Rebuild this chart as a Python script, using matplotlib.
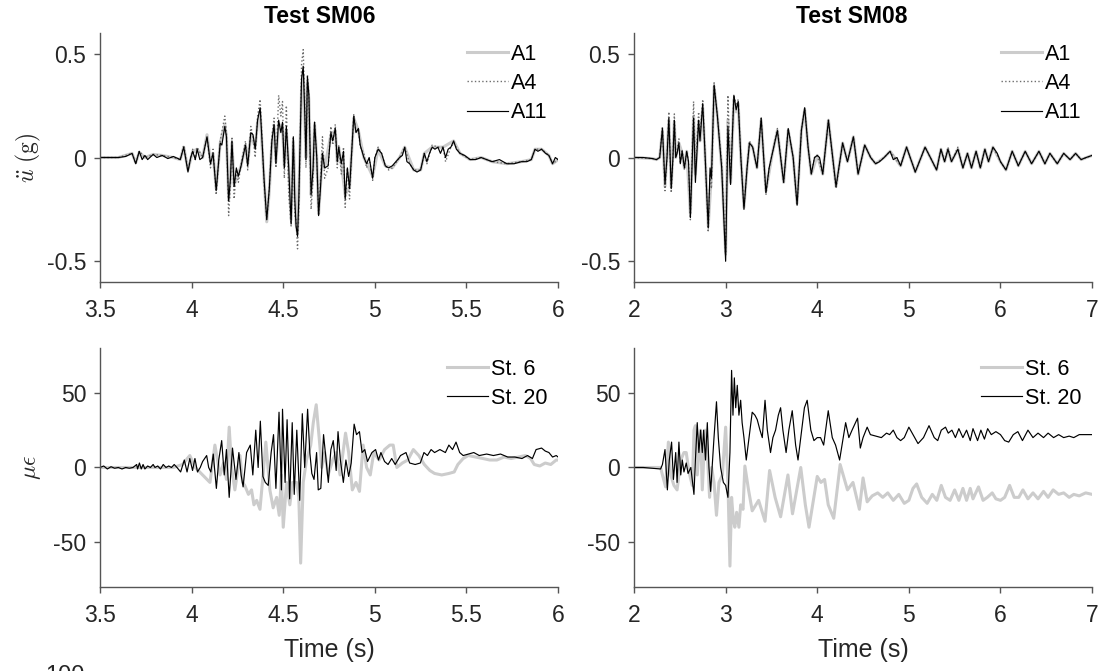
import matplotlib.pyplot as plt

# ---------------------------------------------------------------
# Readings taken off the reference traces (time in s, value)
# ---------------------------------------------------------------
sm06_a1 = [(3.50, 0.0), (3.60, 0.0), (3.675, 0.02), (3.695, -0.025), (3.714, 0.025), (3.745, 0.0), (3.79, 0.015),
           (3.84, 0.01), (3.90, 0.0), (3.938, -0.01), (3.957, 0.05), (3.98, -0.06), (4.006, 0.03), (4.03, 0.04),
           (4.06, 0.0), (4.084, 0.11), (4.103, -0.02), (4.117, 0.02), (4.134, -0.15), (4.156, 0.07), (4.181, 0.16),
           (4.19, 0.10), (4.202, -0.20), (4.212, -0.10), (4.22, 0.07), (4.232, -0.13), (4.255, -0.08), (4.27, -0.04),
           (4.294, 0.06), (4.306, -0.03), (4.323, 0.11), (4.347, 0.05), (4.36, 0.17), (4.374, 0.22), (4.383, 0.08),
           (4.395, -0.10), (4.41, -0.31), (4.424, -0.16), (4.438, 0.07), (4.45, 0.15), (4.46, -0.02), (4.475, 0.16),
           (4.496, 0.15), (4.506, -0.04), (4.517, 0.13), (4.53, -0.05), (4.543, -0.30), (4.555, 0.08), (4.57, -0.32),
           (4.578, -0.36), (4.585, -0.18), (4.60, 0.33), (4.609, 0.40), (4.618, 0.18), (4.624, 0.0), (4.632, 0.36),
           (4.64, 0.28), (4.652, -0.18), (4.663, -0.05), (4.671, 0.16), (4.683, 0.0), (4.693, -0.27), (4.703, -0.14),
           (4.714, 0.02), (4.726, -0.05), (4.76, 0.11), (4.784, 0.13), (4.795, -0.02), (4.803, 0.05), (4.817, -0.03),
           (4.838, -0.18), (4.862, -0.14), (4.885, 0.19), (4.91, 0.13), (4.94, 0.0), (4.988, -0.09), (5.018, 0.04),
           (5.057, -0.04), (5.095, -0.05), (5.135, 0.0), (5.163, 0.05), (5.212, -0.06), (5.25, -0.06), (5.27, 0.02),
           (5.313, 0.05), (5.344, 0.05), (5.372, 0.05), (5.43, 0.08), (5.465, 0.02), (5.52, -0.01), (5.58, 0.0),
           (5.64, -0.02), (5.72, -0.03), (5.80, -0.02), (5.854, -0.01), (5.874, 0.04), (5.91, 0.04), (5.95, 0.01),
           (5.97, -0.03), (6.0, -0.01)]

sm06_a4 = [(3.50, 0.0), (3.60, 0.0), (3.675, 0.02), (3.695, -0.03), (3.714, 0.03), (3.745, 0.0), (3.79, 0.015),
           (3.84, 0.01), (3.90, 0.0), (3.938, -0.01), (3.957, 0.06), (3.98, -0.06), (4.006, 0.04), (4.02, -0.01),
           (4.03, 0.05), (4.06, 0.0), (4.084, 0.10), (4.103, -0.05), (4.117, 0.04), (4.134, -0.18), (4.156, 0.08),
           (4.181, 0.20), (4.19, 0.12), (4.202, -0.28), (4.212, -0.12), (4.22, 0.10), (4.232, -0.20), (4.244, -0.06),
           (4.255, -0.12), (4.27, -0.03), (4.294, 0.08), (4.306, -0.06), (4.323, 0.15), (4.335, 0.10), (4.347, 0.0),
           (4.36, 0.20), (4.374, 0.28), (4.383, 0.12), (4.395, -0.12), (4.41, -0.30), (4.424, -0.15), (4.438, 0.10),
           (4.45, 0.19), (4.46, -0.05), (4.475, 0.30), (4.487, 0.20), (4.496, 0.27), (4.506, -0.10), (4.517, 0.25),
           (4.53, -0.18), (4.543, -0.33), (4.555, 0.10), (4.563, -0.28), (4.57, -0.30), (4.578, -0.44), (4.585, -0.25),
           (4.60, 0.45), (4.609, 0.52), (4.618, 0.25), (4.624, -0.05), (4.632, 0.40), (4.64, 0.30), (4.652, -0.25),
           (4.663, -0.10), (4.671, 0.17), (4.683, 0.0), (4.693, -0.28), (4.703, -0.12), (4.714, 0.10), (4.726, -0.10),
           (4.745, -0.05), (4.76, 0.15), (4.77, 0.06), (4.784, 0.16), (4.795, -0.05), (4.803, 0.06), (4.817, -0.08),
           (4.829, 0.05), (4.838, -0.24), (4.85, -0.05), (4.862, -0.20), (4.872, 0.0), (4.885, 0.21), (4.897, 0.12),
           (4.91, 0.14), (4.92, 0.05), (4.94, 0.02), (4.955, -0.05), (4.969, 0.0), (4.988, -0.11), (5.0, 0.0),
           (5.018, 0.05), (5.037, 0.02), (5.057, -0.04), (5.075, -0.06), (5.095, -0.05), (5.135, 0.0), (5.163, 0.05),
           (5.19, -0.03), (5.212, -0.06), (5.25, -0.06), (5.27, 0.02), (5.284, -0.03), (5.313, 0.06), (5.344, 0.05),
           (5.372, 0.05), (5.386, -0.02), (5.415, 0.05), (5.43, 0.07), (5.465, 0.02), (5.52, -0.01), (5.58, 0.0),
           (5.64, -0.02), (5.72, -0.03), (5.80, -0.02), (5.854, -0.01), (5.874, 0.04), (5.91, 0.04), (5.95, 0.01),
           (5.97, -0.03), (6.0, -0.01)]

sm06_a11 = [(3.50, 0.0), (3.55, 0.0), (3.60, 0.0), (3.64, 0.005), (3.675, 0.02), (3.695, -0.03), (3.714, 0.03),
            (3.73, -0.01), (3.745, 0.01), (3.76, -0.01), (3.79, 0.015), (3.81, 0.0), (3.84, 0.01), (3.87, -0.005),
            (3.90, 0.005), (3.938, -0.01), (3.957, 0.05), (3.98, -0.07), (3.995, 0.0), (4.006, 0.03), (4.02, -0.01),
            (4.03, 0.04), (4.045, -0.01), (4.06, 0.0), (4.084, 0.10), (4.103, -0.03), (4.117, 0.02), (4.134, -0.16),
            (4.156, 0.07), (4.165, 0.06), (4.181, 0.15), (4.19, 0.10), (4.202, -0.21), (4.212, -0.10), (4.22, 0.08),
            (4.232, -0.14), (4.244, -0.05), (4.255, -0.09), (4.27, -0.04), (4.294, 0.06), (4.306, -0.04), (4.323, 0.12),
            (4.335, 0.11), (4.347, 0.04), (4.36, 0.18), (4.374, 0.24), (4.383, 0.10), (4.395, -0.10), (4.41, -0.30),
            (4.424, -0.15), (4.438, 0.08), (4.45, 0.16), (4.46, -0.03), (4.475, 0.18), (4.487, 0.12), (4.496, 0.17),
            (4.506, -0.05), (4.517, 0.15), (4.53, -0.05), (4.543, -0.32), (4.555, 0.10), (4.563, -0.20), (4.57, -0.33),
            (4.578, -0.38), (4.585, -0.20), (4.60, 0.38), (4.609, 0.44), (4.618, 0.20), (4.624, -0.01), (4.632, 0.39),
            (4.64, 0.30), (4.652, -0.18), (4.663, -0.05), (4.671, 0.17), (4.683, 0.0), (4.693, -0.28), (4.703, -0.15),
            (4.714, 0.02), (4.726, -0.05), (4.745, -0.04), (4.76, 0.12), (4.77, 0.08), (4.784, 0.14), (4.795, -0.02),
            (4.803, 0.05), (4.817, -0.03), (4.829, 0.03), (4.838, -0.20), (4.85, -0.05), (4.862, -0.15), (4.872, 0.0),
            (4.885, 0.20), (4.897, 0.12), (4.91, 0.14), (4.92, 0.06), (4.94, 0.0), (4.955, -0.03), (4.969, 0.0),
            (4.988, -0.10), (5.0, 0.0), (5.018, 0.04), (5.037, 0.02), (5.057, -0.04), (5.075, -0.05), (5.095, -0.04),
            (5.115, -0.02), (5.135, 0.0), (5.15, 0.01), (5.163, 0.05), (5.175, -0.02), (5.19, -0.03), (5.212, -0.06),
            (5.23, -0.07), (5.25, -0.06), (5.27, 0.02), (5.284, -0.02), (5.298, 0.02), (5.313, 0.05), (5.328, 0.04),
            (5.344, 0.05), (5.358, 0.02), (5.372, 0.05), (5.386, 0.0), (5.40, 0.04), (5.415, 0.05), (5.43, 0.08),
            (5.445, 0.04), (5.465, 0.02), (5.49, 0.01), (5.52, -0.01), (5.55, -0.01), (5.58, 0.0), (5.61, -0.01),
            (5.64, -0.02), (5.68, -0.01), (5.72, -0.03), (5.76, -0.03), (5.80, -0.02), (5.83, -0.02), (5.854, -0.01),
            (5.874, 0.04), (5.89, 0.03), (5.91, 0.04), (5.932, 0.02), (5.95, 0.01), (5.97, -0.03), (5.985, 0.0),
            (6.0, -0.01)]

sm08_a1 = [(2.0, 0.0), (2.2, -0.005), (2.245, -0.01), (2.28, 0.0), (2.31, 0.13), (2.338, -0.14), (2.38, 0.18),
           (2.406, -0.14), (2.44, 0.17), (2.455, 0.0), (2.49, 0.07), (2.525, 0.02), (2.55, -0.05), (2.575, 0.03),
           (2.615, -0.27), (2.65, 0.20), (2.67, -0.08), (2.705, 0.17), (2.72, 0.08), (2.75, 0.24), (2.777, 0.0),
           (2.81, -0.33), (2.845, -0.08), (2.874, 0.34), (2.91, 0.20), (2.957, -0.05), (3.0, -0.46), (3.025, 0.18),
           (3.054, -0.12), (3.09, 0.28), (3.115, 0.22), (3.137, 0.26), (3.166, 0.0), (3.2, -0.24), (3.234, -0.05),
           (3.26, 0.07), (3.295, 0.05), (3.342, -0.05), (3.388, 0.18), (3.44, -0.16), (3.51, 0.02), (3.565, 0.13),
           (3.633, -0.12), (3.683, 0.13), (3.737, 0.0), (3.78, -0.22), (3.827, 0.13), (3.863, 0.23), (3.9, 0.05),
           (3.935, -0.08), (4.0, 0.01), (4.06, -0.08), (4.122, 0.18), (4.205, -0.14), (4.277, 0.07), (4.33, -0.02),
           (4.395, 0.10), (4.446, -0.08), (4.518, 0.06), (4.583, 0.0), (4.637, -0.03), (4.73, 0.0), (4.795, 0.03),
           (4.91, -0.04), (4.975, 0.05), (5.07, -0.07), (5.177, 0.05), (5.303, -0.06), (5.35, 0.04), (5.39, -0.02),
           (5.427, 0.04), (5.465, -0.02), (5.535, 0.04), (5.59, -0.05), (5.64, 0.02), (5.684, -0.05), (5.734, 0.03),
           (5.78, -0.05), (5.83, 0.04), (5.87, -0.02), (5.918, 0.05), (6.0, -0.02), (6.06, -0.06), (6.128, 0.03),
           (6.195, -0.04), (6.27, 0.03), (6.34, -0.03), (6.42, 0.03), (6.485, -0.03), (6.54, 0.02), (6.62, -0.03),
           (6.69, 0.02), (6.76, -0.01), (6.82, 0.02), (6.88, -0.01), (7.0, 0.01)]

sm08_a4 = [(2.0, 0.0), (2.2, -0.005), (2.245, -0.01), (2.28, 0.0), (2.31, 0.15), (2.338, -0.16), (2.36, 0.0),
           (2.38, 0.22), (2.406, -0.17), (2.425, 0.0), (2.44, 0.21), (2.455, 0.0), (2.49, 0.09), (2.505, -0.03),
           (2.525, 0.04), (2.55, -0.06), (2.575, 0.03), (2.595, -0.02), (2.615, -0.30), (2.65, 0.27), (2.67, -0.05),
           (2.705, 0.22), (2.72, 0.10), (2.75, 0.28), (2.777, 0.0), (2.81, -0.36), (2.83, -0.08), (2.845, -0.15),
           (2.874, 0.36), (2.91, 0.20), (2.957, -0.03), (3.0, -0.47), (3.025, 0.30), (3.054, -0.10), (3.09, 0.30),
           (3.115, 0.25), (3.137, 0.28), (3.166, 0.0), (3.2, -0.24), (3.234, -0.05), (3.26, 0.08), (3.295, 0.05),
           (3.342, -0.05), (3.388, 0.19), (3.44, -0.18), (3.475, -0.05), (3.51, 0.02), (3.565, 0.14), (3.633, -0.12),
           (3.683, 0.14), (3.737, 0.0), (3.78, -0.23), (3.827, 0.13), (3.863, 0.24), (3.9, 0.05), (3.935, -0.08),
           (3.97, 0.0), (4.0, 0.01), (4.06, -0.08), (4.122, 0.18), (4.205, -0.15), (4.277, 0.07), (4.33, -0.02),
           (4.395, 0.10), (4.446, -0.08), (4.518, 0.06), (4.583, 0.0), (4.637, -0.03), (4.73, 0.0), (4.795, 0.03),
           (4.91, -0.04), (4.975, 0.05), (5.07, -0.07), (5.177, 0.05), (5.303, -0.06), (5.35, 0.04), (5.39, -0.02),
           (5.427, 0.05), (5.465, -0.02), (5.535, 0.05), (5.59, -0.05), (5.64, 0.02), (5.684, -0.05), (5.734, 0.03),
           (5.78, -0.05), (5.83, 0.04), (5.87, -0.02), (5.918, 0.05), (6.0, -0.02), (6.06, -0.06), (6.128, 0.03),
           (6.195, -0.04), (6.27, 0.03), (6.34, -0.03), (6.42, 0.03), (6.485, -0.03), (6.54, 0.02), (6.62, -0.03),
           (6.69, 0.02), (6.76, -0.01), (6.82, 0.02), (6.88, -0.01), (7.0, 0.01)]

sm08_a11 = [(2.0, 0.0), (2.1, 0.0), (2.2, -0.005), (2.245, -0.01), (2.28, 0.0), (2.31, 0.14), (2.338, -0.13),
            (2.36, 0.0), (2.38, 0.19), (2.406, -0.15), (2.425, 0.0), (2.44, 0.18), (2.455, 0.0), (2.47, 0.02),
            (2.49, 0.07), (2.505, -0.03), (2.525, 0.03), (2.55, -0.05), (2.575, 0.03), (2.595, -0.02), (2.615, -0.29),
            (2.65, 0.19), (2.67, -0.12), (2.705, 0.18), (2.72, 0.08), (2.75, 0.26), (2.777, 0.0), (2.81, -0.34),
            (2.83, -0.05), (2.845, -0.10), (2.874, 0.35), (2.91, 0.20), (2.957, -0.05), (3.0, -0.50), (3.025, 0.15),
            (3.054, -0.13), (3.09, 0.30), (3.115, 0.23), (3.137, 0.27), (3.166, 0.0), (3.2, -0.25), (3.234, -0.05),
            (3.26, 0.07), (3.295, 0.05), (3.342, -0.05), (3.388, 0.19), (3.44, -0.17), (3.475, -0.05), (3.51, 0.02),
            (3.565, 0.13), (3.633, -0.12), (3.683, 0.14), (3.737, 0.0), (3.78, -0.23), (3.827, 0.13), (3.863, 0.24),
            (3.9, 0.05), (3.935, -0.08), (3.97, 0.0), (4.0, 0.01), (4.025, 0.0), (4.06, -0.08), (4.122, 0.18),
            (4.205, -0.14), (4.277, 0.07), (4.33, -0.02), (4.395, 0.10), (4.446, -0.08), (4.518, 0.06), (4.583, 0.0),
            (4.637, -0.03), (4.68, -0.02), (4.73, 0.0), (4.795, 0.03), (4.83, -0.01), (4.87, 0.0), (4.91, -0.04),
            (4.975, 0.05), (5.07, -0.07), (5.177, 0.05), (5.235, 0.0), (5.303, -0.06), (5.35, 0.04), (5.39, -0.02),
            (5.427, 0.04), (5.465, -0.02), (5.535, 0.04), (5.59, -0.05), (5.64, 0.02), (5.684, -0.05), (5.734, 0.03),
            (5.78, -0.05), (5.83, 0.04), (5.87, -0.02), (5.918, 0.05), (5.965, 0.02), (6.0, -0.02), (6.06, -0.06),
            (6.128, 0.03), (6.195, -0.04), (6.27, 0.03), (6.34, -0.03), (6.42, 0.03), (6.485, -0.03), (6.54, 0.02),
            (6.62, -0.03), (6.69, 0.02), (6.76, -0.01), (6.82, 0.02), (6.88, -0.01), (6.935, 0.0), (7.0, 0.01)]

sm06_st6 = [(3.50, 0), (3.60, 0), (3.70, 0), (3.80, 0), (3.90, 0), (3.95, 2), (3.99, 8), (4.02, 0), (4.06, -5),
            (4.10, -10), (4.127, 15), (4.155, -5), (4.174, 3), (4.19, -8), (4.205, 27), (4.218, 0), (4.236, -15),
            (4.264, 8), (4.278, -10), (4.29, -12), (4.31, -18), (4.327, -15), (4.34, -25), (4.355, -22), (4.373, -28),
            (4.39, -5), (4.405, 17), (4.427, -15), (4.445, -27), (4.464, -20), (4.478, -32), (4.49, -5), (4.50, -40),
            (4.518, -10), (4.536, -25), (4.55, -10), (4.573, -10), (4.585, -20), (4.595, -64), (4.609, -10),
            (4.627, 5), (4.65, 15), (4.664, 30), (4.68, 42), (4.696, 20), (4.71, 0), (4.727, 10), (4.745, -5),
            (4.77, 5), (4.79, 10), (4.81, -5), (4.84, 23), (4.857, 10), (4.877, -15), (4.897, -10), (4.916, -16),
            (4.936, 15), (4.955, 0), (4.975, -5), (4.994, 10), (5.023, 5), (5.053, 12), (5.082, 15), (5.10, 15),
            (5.12, 0), (5.15, 3), (5.18, 5), (5.21, 12), (5.24, 8), (5.27, 2), (5.30, -2), (5.326, -4), (5.365, -5),
            (5.404, -4), (5.433, -3), (5.453, 2), (5.482, 6), (5.51, 8), (5.55, 7), (5.59, 6), (5.627, 5), (5.666, 5),
            (5.705, 7), (5.744, 6), (5.783, 7), (5.822, 8), (5.85, 6), (5.87, 2), (5.90, 1), (5.93, 3), (5.96, 2),
            (5.99, 5), (6.0, 5)]

sm06_st20 = [(3.50, 0.0), (3.52, 1), (3.54, -1), (3.56, 0.5), (3.58, -0.5), (3.60, 0), (3.62, -1), (3.64, 0),
             (3.66, -0.5), (3.68, 0), (3.70, 2), (3.705, -1), (3.715, 3), (3.725, -1), (3.735, 2), (3.745, -1),
             (3.76, 1), (3.775, 0), (3.79, 2), (3.80, 0), (3.815, 1), (3.83, -1), (3.845, 2), (3.86, 0), (3.875, 1),
             (3.89, 0), (3.905, 2), (3.92, 0), (3.94, -3), (3.96, 5), (3.975, -3), (3.99, 6), (4.005, -2), (4.018, 6),
             (4.032, -3), (4.047, 0), (4.06, 4), (4.082, 8), (4.093, 0), (4.105, -3), (4.118, 9), (4.135, -14),
             (4.148, 5), (4.164, 18), (4.178, -5), (4.19, 12), (4.205, -20), (4.223, 13), (4.242, -8), (4.258, 10),
             (4.27, -5), (4.281, -13), (4.30, 10), (4.32, 15), (4.334, -5), (4.35, 25), (4.363, 0), (4.375, 31),
             (4.389, -6), (4.402, -10), (4.418, -12), (4.434, 10), (4.447, 22), (4.46, -14), (4.477, 37), (4.49, -15),
             (4.496, 39), (4.51, -10), (4.521, 32), (4.535, -21), (4.549, 30), (4.56, -18), (4.574, 25), (4.59, -22),
             (4.604, 36), (4.617, 0), (4.633, 39), (4.645, 10), (4.656, -4), (4.668, -8), (4.682, 10), (4.691, -15),
             (4.705, -14), (4.72, 22), (4.734, 5), (4.746, -10), (4.76, 12), (4.773, 18), (4.789, -2), (4.799, 24),
             (4.812, 5), (4.828, -10), (4.842, 5), (4.857, -6), (4.871, 3), (4.887, 29), (4.90, 22), (4.916, 24),
             (4.93, 10), (4.945, 12), (4.96, 4), (4.984, 10), (5.004, 12), (5.02, 5), (5.033, 10), (5.053, 4),
             (5.072, 2), (5.092, 6), (5.111, 2), (5.14, 8), (5.17, 10), (5.19, 3), (5.22, 2), (5.248, 3), (5.268, 10),
             (5.287, 8), (5.307, 12), (5.326, 10), (5.355, 12), (5.385, 10), (5.404, 15), (5.424, 12), (5.443, 17),
             (5.463, 10), (5.482, 8), (5.51, 9), (5.54, 10), (5.57, 8), (5.61, 9), (5.647, 8), (5.686, 9), (5.725, 7),
             (5.764, 7), (5.803, 6), (5.833, 8), (5.86, 6), (5.88, 12), (5.91, 13), (5.93, 11), (5.95, 10), (5.97, 7),
             (5.99, 8), (6.0, 7)]

sm08_st6 = [(2.0, 0), (2.1, 0), (2.2, 0), (2.29, 0), (2.31, -5), (2.345, -13), (2.375, 17), (2.40, -5),
            (2.436, -12), (2.47, -15), (2.51, 5), (2.545, 10), (2.57, 10), (2.60, -3), (2.636, -12), (2.655, 25),
            (2.67, 28), (2.69, -5), (2.727, 25), (2.745, -15), (2.775, 25), (2.80, 10), (2.825, -20), (2.847, 0),
            (2.873, -10), (2.90, -32), (2.927, -10), (2.964, -5), (3.0, 27), (3.025, -10), (3.047, -66), (3.065, -20),
            (3.084, -35), (3.10, -40), (3.12, -30), (3.145, -40), (3.164, -25), (3.19, -28), (3.21, 1), (3.25, -15),
            (3.29, -29), (3.33, -25), (3.36, -22), (3.39, -28), (3.43, -36), (3.48, -2), (3.54, -20), (3.60, -33),
            (3.68, -5), (3.73, -31), (3.82, 0), (3.87, -25), (3.91, -40), (4.0, -6), (4.04, -10), (4.08, -8),
            (4.12, -25), (4.18, -34), (4.25, 2), (4.33, -15), (4.39, -10), (4.46, -28), (4.50, -7), (4.545, -23),
            (4.60, -19), (4.66, -17), (4.715, -20), (4.77, -17), (4.83, -22), (4.89, -18), (4.95, -24), (5.0, -22),
            (5.045, -14), (5.085, -11), (5.14, -20), (5.20, -24), (5.256, -18), (5.305, -22), (5.354, -12),
            (5.40, -20), (5.45, -22), (5.50, -15), (5.546, -22), (5.59, -14), (5.63, -22), (5.67, -14), (5.70, -21),
            (5.76, -13), (5.81, -22), (5.856, -20), (5.91, -17), (5.95, -21), (6.0, -22), (6.046, -20), (6.10, -12),
            (6.15, -20), (6.20, -20), (6.245, -15), (6.30, -21), (6.355, -17), (6.41, -21), (6.47, -16), (6.52, -20),
            (6.575, -15), (6.635, -18), (6.69, -17), (6.75, -20), (6.80, -18), (6.86, -19), (6.93, -17), (7.0, -18)]

sm08_st20 = [(2.0, 0), (2.1, 0), (2.2, -0.5), (2.29, -1), (2.31, 2), (2.338, 12), (2.364, -15), (2.385, 5),
             (2.41, 17), (2.43, -8), (2.455, 10), (2.47, -10), (2.49, 17), (2.51, -5), (2.527, 5), (2.545, -3),
             (2.57, 3), (2.59, -4), (2.62, 0), (2.654, -18), (2.67, 5), (2.69, 30), (2.708, 10), (2.727, 25),
             (2.745, 10), (2.76, 25), (2.78, 5), (2.80, 30), (2.818, 0), (2.836, -16), (2.873, 20), (2.90, 44),
             (2.92, 20), (2.945, 0), (2.975, -10), (3.0, -12), (3.025, -20), (3.047, 10), (3.065, 65), (3.08, 35),
             (3.095, 60), (3.11, 40), (3.127, 55), (3.145, 35), (3.164, 45), (3.18, 30), (3.20, 20), (3.225, 5),
             (3.255, 20), (3.29, 37), (3.32, 35), (3.345, 32), (3.375, 25), (3.40, 20), (3.43, 45), (3.455, 25),
             (3.49, 10), (3.516, 20), (3.545, 25), (3.575, 35), (3.60, 40), (3.625, 25), (3.66, 10), (3.69, 25),
             (3.727, 38), (3.764, 15), (3.79, 5), (3.83, 25), (3.86, 40), (3.89, 45), (3.93, 25), (3.964, 18),
             (4.0, 20), (4.036, 20), (4.07, 15), (4.12, 38), (4.164, 20), (4.20, 15), (4.244, 5), (4.27, 15),
             (4.31, 30), (4.345, 20), (4.38, 25), (4.44, 33), (4.47, 13), (4.50, 20), (4.545, 27), (4.58, 22),
             (4.64, 21), (4.70, 20), (4.756, 23), (4.79, 22), (4.83, 25), (4.87, 20), (4.91, 18), (4.95, 20),
             (5.0, 27), (5.045, 22), (5.10, 16), (5.16, 20), (5.22, 28), (5.277, 20), (5.315, 18), (5.354, 25),
             (5.40, 27), (5.43, 23), (5.47, 25), (5.508, 20), (5.546, 26), (5.59, 20), (5.63, 25), (5.67, 18),
             (5.70, 26), (5.75, 18), (5.786, 25), (5.825, 19), (5.86, 26), (5.90, 22), (5.95, 24), (6.0, 22),
             (6.046, 18), (6.09, 17), (6.14, 22), (6.19, 24), (6.24, 18), (6.30, 25), (6.355, 20), (6.41, 23),
             (6.47, 20), (6.52, 23), (6.58, 20), (6.635, 22), (6.69, 20), (6.75, 21), (6.80, 20), (6.86, 22),
             (6.92, 22), (7.0, 22)]

titles = ['Test SM06', 'Test SM08']
acc_labels = ['A1', 'A4', 'A11']
strain_labels = ['St. 6', 'St. 20']
xticks_sm06 = [3.5, 4, 4.5, 5, 5.5, 6]
xticks_sm08 = [2, 3, 4, 5, 6, 7]

# ---------------------------------------------------------------
plt.rcParams['font.family'] = ['Liberation Sans', 'DejaVu Sans']
plt.rcParams['mathtext.fontset'] = 'cm'
plt.rcParams['axes.unicode_minus'] = False

fig = plt.figure(figsize=(11.04, 6.71), dpi=100)
ax_tl = fig.add_axes([0.0906, 0.5797, 0.4149, 0.3711])
ax_tr = fig.add_axes([0.5743, 0.5797, 0.4149, 0.3711])
ax_bl = fig.add_axes([0.0906, 0.1252, 0.4149, 0.3562])
ax_br = fig.add_axes([0.5743, 0.1252, 0.4149, 0.3562])

gray_thick = dict(color='#cccccc', lw=2.2)
gray_dot = dict(color='#6e6e6e', lw=1.0, ls=':')
black_thin = dict(color='black', lw=0.85)
txt = '#262626'


def xy(pairs):
    t, v = zip(*pairs)
    return list(t), list(v)


def style(ax, xlim, xticks, ylim, yticks):
    ax.set_xlim(*xlim)
    ax.set_ylim(*ylim)
    ax.set_xticks(xticks)
    ax.set_xticklabels([f'{x:g}' for x in xticks])
    ax.set_yticks(yticks)
    ax.set_yticklabels([f'{y:g}' for y in yticks])
    for s in ['top', 'right']:
        ax.spines[s].set_visible(False)
    for s in ['left', 'bottom']:
        ax.spines[s].set_color('#555555')
        ax.spines[s].set_linewidth(1.0)
    ax.tick_params(direction='out', length=4, width=1, color='#555555',
                   labelsize=16.5, labelcolor=txt)
    ax.tick_params(axis='x', pad=8)
    ax.tick_params(axis='y', pad=6)


def add_legend(ax):
    ax.legend(loc='upper right', bbox_to_anchor=(1.0, 1.0), frameon=False, fontsize=15.5,
              handlelength=1.9, handletextpad=0.15, labelspacing=0.38,
              borderaxespad=0.0, borderpad=0.5)


# accelerations
for ax, a1, a4, a11, ttl, tx, xl, xt in [
        (ax_tl, sm06_a1, sm06_a4, sm06_a11, titles[0], 0.48, (3.5, 6), xticks_sm06),
        (ax_tr, sm08_a1, sm08_a4, sm08_a11, titles[1], 0.475, (2, 7), xticks_sm08)]:
    ax.plot(*xy(a1), label=acc_labels[0], **gray_thick)
    ax.plot(*xy(a4), label=acc_labels[1], **gray_dot)
    ax.plot(*xy(a11), label=acc_labels[2], **black_thin)
    style(ax, xl, xt, (-0.6, 0.6), [-0.5, 0, 0.5])
    ax.set_title(ttl, fontsize=16.5, fontweight='bold', x=tx, pad=7)
    add_legend(ax)

# strains
for ax, s6, s20, xl, xt in [(ax_bl, sm06_st6, sm06_st20, (3.5, 6), xticks_sm06),
                            (ax_br, sm08_st6, sm08_st20, (2, 7), xticks_sm08)]:
    ax.plot(*xy(s6), label=strain_labels[0], **gray_thick)
    ax.plot(*xy(s20), label=strain_labels[1], **black_thin)
    style(ax, xl, xt, (-80, 80), [-50, 0, 50])
    ax.set_xlabel('Time (s)', fontsize=18, color=txt)
    ax.xaxis.set_label_coords(0.5, -0.215)
    add_legend(ax)

ax_tl.set_ylabel(r'$\ddot{u}\ (\mathrm{g})$', fontsize=17, color=txt)
ax_tl.yaxis.set_label_coords(-0.125, 0.5)
ax_bl.set_ylabel(r'$\mu\epsilon$', fontsize=17, color=txt)
ax_bl.yaxis.set_label_coords(-0.125, 0.5)

# the top of a caption number is cut by the lower edge in the reference
fig.text(0.041, 0.009, '100', fontsize=17, color=txt, va='top', ha='left')

fig.savefig('out.png', dpi=100)
